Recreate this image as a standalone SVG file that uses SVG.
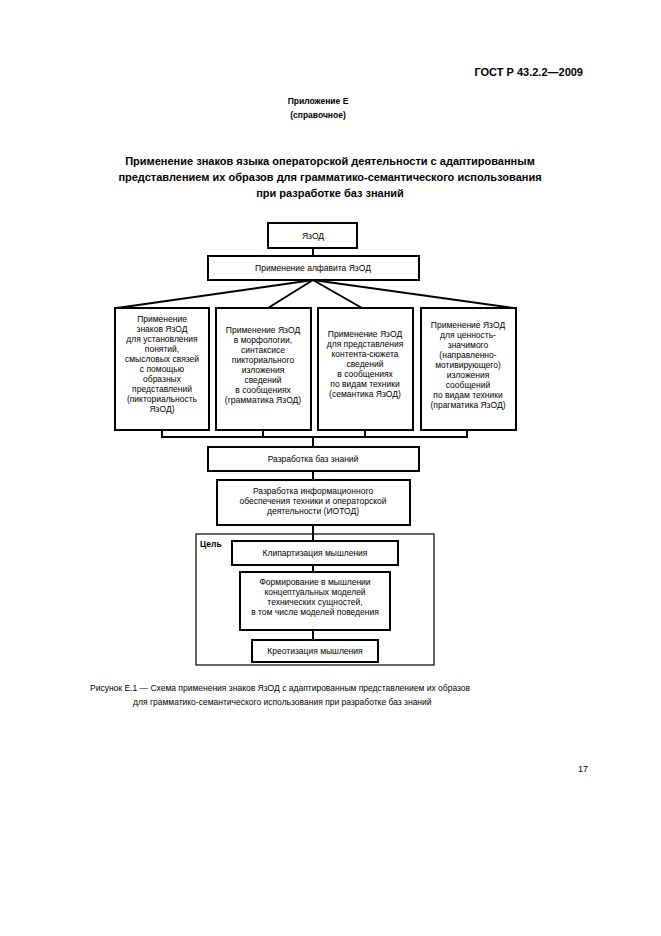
<svg xmlns="http://www.w3.org/2000/svg" width="661" height="936" viewBox="0 0 661 936">
<style>
text{font-family:"Liberation Sans",Arial,sans-serif;fill:#000}
.n{fill:#fff;stroke:#000;stroke-width:2}
.t{font-size:8.5px;text-anchor:middle}
.c{stroke:#000;stroke-width:2;fill:none}
</style>
<rect width="661" height="936" fill="#fff"/>
<text x="583" y="76" font-size="11" font-weight="bold" text-anchor="end">ГОСТ Р 43.2.2—2009</text>
<text x="318" y="104" font-size="8.5" font-weight="bold" text-anchor="middle">Приложение Е</text>
<text x="318" y="118" font-size="8.5" font-weight="bold" text-anchor="middle">(справочное)</text>
<g font-size="11" font-weight="bold" text-anchor="middle">
<text x="330" y="165">Применение знаков языка операторской деятельности с адаптированным</text>
<text x="330" y="181">представлением их образов для грамматико-семантического использования</text>
<text x="330" y="197">при разработке баз знаний</text>
</g>
<g id="connectors">
<line class="c" x1="313" y1="248" x2="313" y2="256"/>
<line class="c" x1="313" y1="280" x2="117" y2="308"/>
<line class="c" x1="313" y1="280" x2="268" y2="308"/>
<line class="c" x1="313" y1="280" x2="362" y2="308"/>
<line class="c" x1="313" y1="280" x2="513" y2="308"/>
<polyline class="c" points="162,430 162,437 467,437 467,430"/>
<line class="c" x1="263" y1="430" x2="263" y2="437"/>
<line class="c" x1="365" y1="430" x2="365" y2="437"/>
<line class="c" x1="313" y1="437" x2="313" y2="447"/>
<line class="c" x1="313" y1="471" x2="313" y2="480"/>
<line class="c" x1="313" y1="525" x2="313" y2="541"/>
<line class="c" x1="313" y1="565" x2="313" y2="572"/>
<line class="c" x1="313" y1="630" x2="313" y2="640"/>
</g>
<g id="yazod"><rect class="n" x="268" y="223" width="89" height="25"/><text class="t" x="313" y="239">ЯзОД</text></g>
<g id="alphabet"><rect class="n" x="208" y="256" width="211" height="24"/><text class="t" x="313" y="271">Применение алфавита ЯзОД</text></g>
<g id="b1"><rect class="n" x="115" y="308" width="94" height="122"/>
<text class="t" x="162"><tspan x="162" y="322">Применение</tspan><tspan x="162" y="332">знаков ЯзОД</tspan><tspan x="162" y="342">для установления</tspan><tspan x="162" y="352">понятий,</tspan><tspan x="162" y="362">смысловых связей</tspan><tspan x="162" y="372">с помощью</tspan><tspan x="162" y="382">образных</tspan><tspan x="162" y="392">представлений</tspan><tspan x="162" y="402">(пикториальность</tspan><tspan x="162" y="412">ЯзОД)</tspan></text></g>
<g id="b2"><rect class="n" x="216" y="308" width="95" height="122"/>
<text class="t"><tspan x="263" y="333">Применение ЯзОД</tspan><tspan x="263" y="343">в морфологии,</tspan><tspan x="263" y="353">синтаксисе</tspan><tspan x="263" y="363">пикториального</tspan><tspan x="263" y="373">изложения</tspan><tspan x="263" y="383">сведений</tspan><tspan x="263" y="393">в сообщениях</tspan><tspan x="263" y="403">(грамматика ЯзОД)</tspan></text></g>
<g id="b3"><rect class="n" x="318" y="308" width="95" height="122"/>
<text class="t"><tspan x="365" y="337">Применение ЯзОД</tspan><tspan x="365" y="347">для представления</tspan><tspan x="365" y="357">контента-сюжета</tspan><tspan x="365" y="367">сведений</tspan><tspan x="365" y="377">в сообщениях</tspan><tspan x="365" y="387">по видам техники</tspan><tspan x="365" y="397">(семантика ЯзОД)</tspan></text></g>
<g id="b4"><rect class="n" x="421" y="308" width="95" height="122"/>
<text class="t"><tspan x="468" y="328">Применение ЯзОД</tspan><tspan x="468" y="338">для ценность-</tspan><tspan x="468" y="348">значимого</tspan><tspan x="468" y="358">(направленно-</tspan><tspan x="468" y="368">мотивирующего)</tspan><tspan x="468" y="378">изложения</tspan><tspan x="468" y="388">сообщений</tspan><tspan x="468" y="398">по видам техники</tspan><tspan x="468" y="408">(прагматика ЯзОД)</tspan></text></g>
<g id="kb"><rect class="n" x="208" y="447" width="211" height="24"/><text class="t" x="313" y="462">Разработка баз знаний</text></g>
<g id="iotod"><rect class="n" x="217" y="480" width="193" height="45"/>
<text class="t"><tspan x="313" y="494">Разработка информационного</tspan><tspan x="313" y="504">обеспечения техники и операторской</tspan><tspan x="313" y="514">деятельности (ИОТОД)</tspan></text></g>
<g id="goal"><rect x="196" y="534" width="238" height="131" fill="none" stroke="#000" stroke-width="1.2"/><text x="200" y="547" font-size="8.5" font-weight="bold">Цель</text></g>
<g id="g1"><rect class="n" x="232" y="541" width="166" height="24"/><text class="t" x="315" y="556">Клипартизация мышления</text></g>
<g id="g2"><rect class="n" x="240" y="572" width="150" height="58"/>
<text class="t"><tspan x="315" y="585">Формирование в мышлении</tspan><tspan x="315" y="595">концептуальных моделей</tspan><tspan x="315" y="605">технических сущностей,</tspan><tspan x="315" y="615">в том числе моделей поведения</tspan></text></g>
<g id="g3"><rect class="n" x="252" y="640" width="126" height="22"/><text class="t" x="315" y="654">Креотизация мышления</text></g>
<g font-size="8.5">
<text x="90" y="691">Рисунок  Е.1 — Схема применения знаков ЯзОД с адаптированным представлением их образов</text>
<text x="133" y="705">для грамматико-семантического использования при разработке баз знаний</text>
</g>
<text x="578" y="772" font-size="9">17</text>
</svg>
